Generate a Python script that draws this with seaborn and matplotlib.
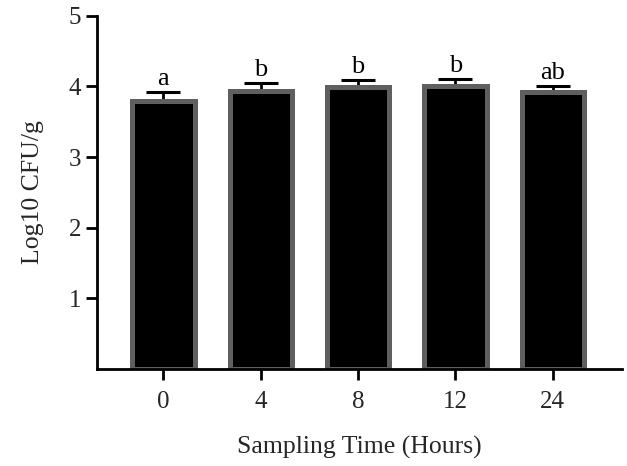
import seaborn as sb
from matplotlib import pyplot as plt
import pandas as pd

# values
hours = ['0', '4', '8', '12', '24']
log_cfu = [3.79, 3.94, 3.99, 4.00, 3.92]
sem = [0.13, 0.11, 0.10, 0.10, 0.08]
letters = ['a', 'b', 'b', 'b', 'ab']

data = pd.DataFrame({'hours': hours, 'log_cfu': log_cfu})

sb.set_style('ticks')
plt.rcParams['font.family'] = ['Liberation Serif', 'DejaVu Serif']

fig = plt.figure(figsize=(6.27, 4.66), dpi=100)
ax = fig.add_axes([0.155, 0.208, 0.837, 0.758])

# upper error bars only, drawn behind the bars so the stem stops at the outline
ax.errorbar(range(len(hours)), log_cfu, yerr=[[0] * len(sem), sem], fmt='none',
            ecolor='black', elinewidth=2, capsize=12, capthick=2.2, zorder=0.5)

# black bars with a thick grey outline
sb.barplot(x='hours', y='log_cfu', data=data, color='black', edgecolor='#5f5f5f',
           linewidth=3.6, width=0.64, errorbar=None, saturation=1, ax=ax, zorder=2)

# significance letters
for i, (m, e, t) in enumerate(zip(log_cfu, sem, letters)):
    ax.text(i, m + e + 0.03, t, ha='center', va='bottom', fontsize=19, color='black')

ax.set_ylim(0, 5)
ax.set_xlim(-0.68, 4.71)
ax.set_yticks([1, 2, 3, 4, 5])
ax.set_ylabel('Log10 CFU/g', fontsize=18.5, labelpad=18)
ax.set_xlabel('Sampling Time (Hours)', fontsize=18.5, labelpad=16)
ax.tick_params(axis='both', labelsize=18, width=2, length=8, color='black')
ax.tick_params(axis='x', pad=8)
for side in ['left', 'bottom']:
    ax.spines[side].set_linewidth(2)
    ax.spines[side].set_color('black')
sb.despine(ax=ax)

fig.savefig('out.png', dpi=100)
